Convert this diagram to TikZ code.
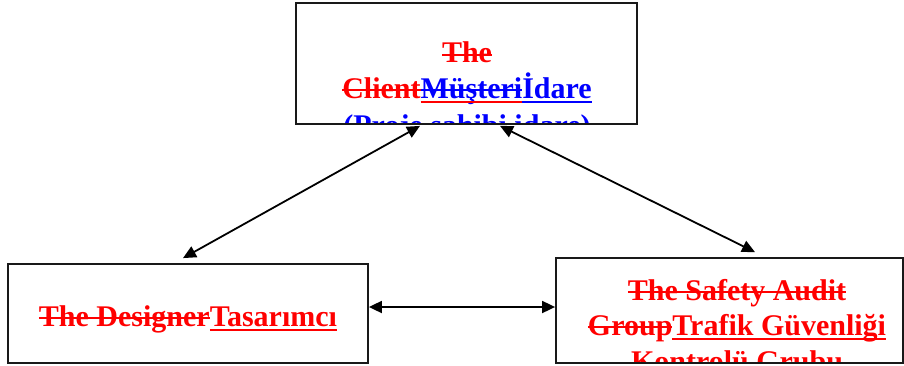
\documentclass[tikz,border=0pt]{standalone}
\usepackage{fontspec}
\setmainfont{Liberation Serif}
\usetikzlibrary{arrows.meta,calc}
\definecolor{rd}{RGB}{255,0,0}
\definecolor{bl}{RGB}{0,0,255}
\definecolor{frame}{RGB}{25,25,25}
% #1 text colour, #2 strike colour (or empty), #3 underline colour (or empty), #4 text
\newcommand\txtmark[4]{%
  \setbox0\hbox{\color{#1}#4}\copy0
  \ifx\relax#2\relax\else\llap{\color{#2}\rule[0.23em]{\wd0}{0.07em}}\fi
  \ifx\relax#3\relax\else\llap{\color{#3}\rule[-0.17em]{\wd0}{0.085em}}\fi}
\begin{document}
\begin{tikzpicture}[x=1pt,y=1pt,
  box/.style={draw=frame,line width=1.8pt,fill=none,inner sep=0pt},
  line/.style={anchor=base,inner sep=0pt,font=\fontsize{30}{35}\selectfont\bfseries},
  arr/.style={line width=1.8pt,{Triangle[length=13pt,width=12pt]}-{Triangle[length=13pt,width=12pt]}}]
\useasboundingbox (0,0) rectangle (904,365);
% boxes (geometry)
\node[box,draw=none,minimum width=339pt,minimum height=119pt] (client) at (466.5,301.5) {};
\node[box,draw=none,minimum width=358pt,minimum height=97pt] (designer) at (188,51.5) {};
\node[box,draw=none,minimum width=345pt,minimum height=103pt] (audit) at (729.5,54.5) {};
% texts, clipped to their boxes
\begin{scope}
  \clip (client.south west) rectangle (client.north east);
  \node[line] (c1) at (467,302) {\txtmark{rd}{rd}{}{The}};
  \node[line] (c2) at (467,267) {\txtmark{rd}{rd}{}{Client}\txtmark{bl}{bl}{rd}{Müşteri}\txtmark{bl}{}{bl}{İdare}};
  \node[line] (c3) at (467,230) {\txtmark{bl}{}{bl}{(Proje sahibi idare)}};
\end{scope}
\begin{scope}
  \clip (designer.south west) rectangle (designer.north east);
  \node[line] (d1) at (188,39) {\txtmark{rd}{rd}{}{The Designer}\txtmark{rd}{}{rd}{Tasarımcı}};
\end{scope}
\begin{scope}
  \clip (audit.south west) rectangle (audit.north east);
  \node[line] (a1) at (737,65) {\txtmark{rd}{rd}{}{The Safety Audit}};
  \node[line] (a2) at (737,30) {\txtmark{rd}{rd}{}{Group}\txtmark{rd}{}{rd}{Trafik Güvenliği}};
  \node[line] (a3) at (737,-6) {\txtmark{rd}{}{rd}{Kontrolü Grubu}};
\end{scope}
% frames
\draw[box] (client.south west) rectangle (client.north east);
\draw[box] (designer.south west) rectangle (designer.north east);
\draw[box] (audit.south west) rectangle (audit.north east);
% connectors
\draw[arr] ([xshift=-5pt,yshift=6pt]designer.north) -- ([xshift=-46.5pt,yshift=-2pt]client.south);
\draw[arr] ([xshift=33.5pt,yshift=-2pt]client.south) -- ([xshift=25.5pt,yshift=6pt]audit.north);
\coordinate (mid) at (0,58);
\draw[arr] ([xshift=1pt]designer.east |- mid) -- ([xshift=-1pt]audit.west |- mid);
\end{tikzpicture}
\end{document}
